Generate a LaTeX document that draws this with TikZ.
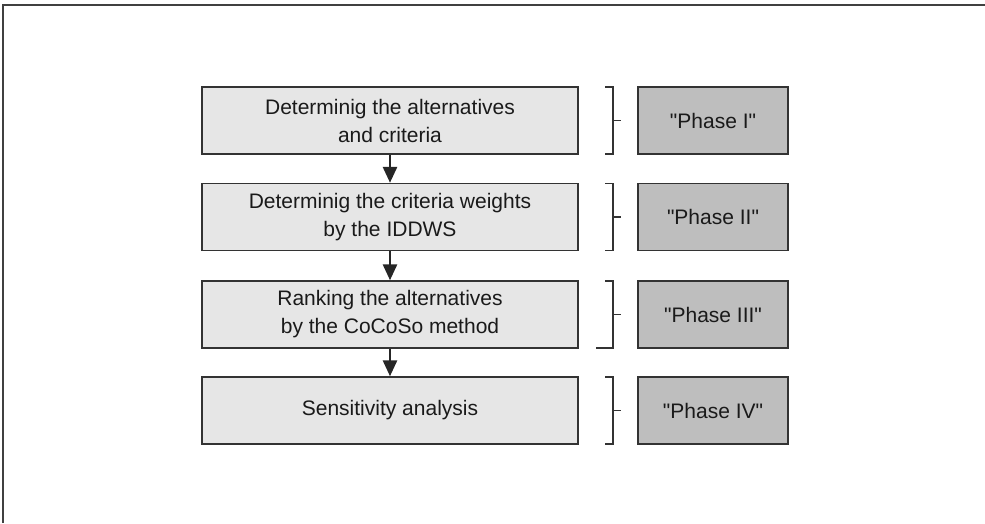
\documentclass[tikz,border=0pt]{standalone}
\usepackage{fontspec}
\setmainfont{Liberation Sans}
\usetikzlibrary{arrows.meta}
\definecolor{boxfill}{HTML}{E6E6E6}
\definecolor{phasefill}{HTML}{BEBEBE}
\definecolor{edge}{HTML}{333333}
\definecolor{txt}{HTML}{1A1A1A}
\begin{document}
\begin{tikzpicture}[x=1pt,y=-1pt,
  stepbox/.style={draw=edge,line width=1.4pt,fill=boxfill,minimum width=376pt,minimum height=67pt,inner sep=0pt,align=center,text=txt,font=\fontsize{21}{28}\selectfont},
  phasebox/.style={draw=edge,line width=1.4pt,fill=phasefill,minimum width=150pt,minimum height=67pt,inner sep=0pt,align=center,text=txt,font=\fontsize{21}{28}\selectfont},
  flow/.style={draw=black!85,line width=2.8pt,-{Triangle[length=16pt,width=14pt]}},
  brk/.style={draw=edge,line width=1.1pt}]
\useasboundingbox (0,0) rectangle (985,523);
\draw[draw=black!75,line width=2pt] (3,523) -- (3,5) -- (985,5);
\node[stepbox] (s1) at (390,120.5) {Determinig the alternatives\\and criteria};
\node[stepbox] (s2) at (390,217) {Determinig the criteria weights\\by the IDDWS};
\node[stepbox] (s3) at (390,314.5) {Ranking the alternatives\\by the CoCoSo method};
\node[stepbox] (s4) at (390,410.5) {Sensitivity analysis};
\node[phasebox] (p1) at (713,120.5) {\textquotedbl Phase I\textquotedbl};
\node[phasebox] (p2) at (713,217) {\textquotedbl Phase II\textquotedbl};
\node[phasebox] (p3) at (713,314.5) {\textquotedbl Phase III\textquotedbl};
\node[phasebox] (p4) at (713,410.5) {\textquotedbl Phase IV\textquotedbl};
\draw[flow] (s1) -- (s2);
\draw[flow] (s2) -- (s3);
\draw[flow] (s3) -- (s4);
\foreach \y/\l in {120.5/605,217/605,314.5/596,410.5/605}{
  \draw[brk] (605,\y-33.5) -- (613,\y-33.5) -- (613,\y+33.5) -- (\l,\y+33.5);
  \draw[brk] (613,\y) -- (621,\y);
}
\end{tikzpicture}
\end{document}
